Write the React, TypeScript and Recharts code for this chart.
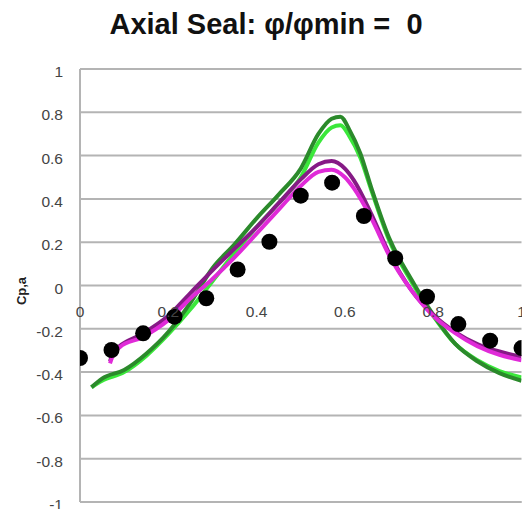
import { ComposedChart, Line, Scatter, XAxis, YAxis, CartesianGrid } from 'recharts'

// measured pressure coefficient (black dots)
const measuredX = [0, 0.0714, 0.143, 0.214, 0.286, 0.357, 0.429, 0.5, 0.571, 0.643, 0.714, 0.786, 0.857, 0.929, 1.0]
const measuredCp = [-0.335, -0.298, -0.221, -0.144, -0.059, 0.074, 0.202, 0.415, 0.475, 0.321, 0.126, -0.052, -0.178, -0.255, -0.289]

// computed curves
const greenX = [0.026, 0.05, 0.1, 0.15, 0.2, 0.25, 0.3, 0.35, 0.4, 0.45, 0.5, 0.54, 0.57, 0.59, 0.61, 0.635, 0.66, 0.7, 0.75, 0.8, 0.85, 0.9, 0.95, 1.0]
const darkGreenCp = [-0.47, -0.43, -0.39, -0.315, -0.215, -0.08, 0.08, 0.19, 0.31, 0.42, 0.54, 0.7, 0.77, 0.78, 0.72, 0.61, 0.45, 0.22, 0.03, -0.135, -0.27, -0.35, -0.405, -0.44]
const limeCp = [-0.47, -0.44, -0.4, -0.325, -0.225, -0.11, 0.02, 0.15, 0.27, 0.38, 0.5, 0.66, 0.73, 0.74, 0.69, 0.59, 0.44, 0.21, 0.02, -0.14, -0.27, -0.345, -0.395, -0.425]

const purpleX = [0.068, 0.075, 0.09, 0.14, 0.2, 0.25, 0.3, 0.35, 0.4, 0.45, 0.5, 0.54, 0.57, 0.6, 0.62, 0.66, 0.7, 0.75, 0.8, 0.85, 0.9, 0.95, 1.0]
const purpleCp = [-0.35, -0.31, -0.28, -0.225, -0.14, -0.035, 0.07, 0.17, 0.27, 0.38, 0.49, 0.56, 0.575, 0.54, 0.487, 0.33, 0.15, -0.02, -0.135, -0.215, -0.27, -0.305, -0.33]
const magentaCp = [-0.36, -0.32, -0.285, -0.24, -0.16, -0.06, 0.03, 0.13, 0.24, 0.35, 0.46, 0.525, 0.535, 0.5, 0.45, 0.31, 0.14, -0.02, -0.14, -0.22, -0.28, -0.32, -0.345]

const xTicks = [0, 0.2, 0.4, 0.6, 0.8, 1]
const yTicks = [-1, -0.8, -0.6, -0.4, -0.2, 0, 0.2, 0.4, 0.6, 0.8, 1]

const toRows = (xs: number[], ys: number[]) => xs.map((x, i) => ({ x, y: ys[i] }))

const measured = toRows(measuredX, measuredCp)
const darkGreen = toRows(greenX, darkGreenCp)
const lime = toRows(greenX, limeCp)
const purple = toRows(purpleX, purpleCp)
const magenta = toRows(purpleX, magentaCp)

const TOP = 69
const BOTTOM = 502
const ZERO_Y = (TOP + BOTTOM) / 2
const FONT = '"Liberation Sans", Arial, sans-serif'
const GRID = '#b4b4b4'

function XTick({ x, payload }: any) {
  return (
    <text x={x} y={ZERO_Y + 31} textAnchor="middle" fontSize={15.5} fill="#444" fontFamily={FONT}>
      {payload.value}
    </text>
  )
}

function YTick({ x, y, payload }: any) {
  return (
    <text x={x} y={y + 8} textAnchor="end" fontSize={15.5} fill="#444" fontFamily={FONT}>
      {payload.value}
    </text>
  )
}

const Dot = (props: any) => <circle cx={props.cx} cy={props.cy} r={8} fill="#000" />

export default function App() {
  return (
    <div style={{ position: 'fixed', left: 0, top: 0, width: 522, height: 509, overflow: 'hidden', background: '#fff' }}>
      <div
        style={{
          position: 'absolute',
          left: 0,
          top: 10,
          width: 532,
          textAlign: 'center',
          fontFamily: FONT,
          fontWeight: 'bold',
          fontSize: 29,
          lineHeight: '29px',
          whiteSpace: 'pre',
          color: '#111',
        }}
      >
        Axial Seal: φ/φmin =  0
      </div>
      <div
        style={{
          position: 'absolute',
          left: 21,
          top: 291,
          transform: 'translate(-50%, -50%) rotate(-90deg)',
          fontFamily: FONT,
          fontWeight: 'bold',
          fontSize: 13,
          color: '#222',
          whiteSpace: 'pre',
        }}
      >
        Cp,a
      </div>
      <div style={{ position: 'absolute', left: 0, top: 0 }}>
        <ComposedChart width={560} height={509} margin={{ top: TOP, right: 38.5, bottom: 0, left: 0 }}>
          <CartesianGrid vertical={false} stroke={GRID} strokeWidth={2} />
          <XAxis
            type="number"
            dataKey="x"
            domain={[0, 1]}
            ticks={xTicks}
            interval={0}
            height={509 - BOTTOM}
            axisLine={{ stroke: GRID, strokeWidth: 2 }}
            tickLine={false}
            tick={<XTick />}
            allowDataOverflow
          />
          <YAxis
            type="number"
            dataKey="y"
            domain={[-1, 1]}
            ticks={yTicks}
            interval={0}
            width={80}
            tickSize={0}
            tickMargin={17}
            tickLine={false}
            axisLine={{ stroke: GRID, strokeWidth: 2 }}
            tick={<YTick />}
            allowDataOverflow
          />
          <Line data={lime} dataKey="y" type="monotone" stroke="#3be83b" strokeWidth={4} dot={false} isAnimationActive={false} />
          <Line data={darkGreen} dataKey="y" type="monotone" stroke="#2b8a2b" strokeWidth={4} dot={false} isAnimationActive={false} />
          <Line data={purple} dataKey="y" type="monotone" stroke="#861a86" strokeWidth={4} dot={false} isAnimationActive={false} />
          <Line data={magenta} dataKey="y" type="monotone" stroke="#e02ad8" strokeWidth={4} dot={false} isAnimationActive={false} />
          <Scatter data={measured} dataKey="y" shape={<Dot />} isAnimationActive={false} />
        </ComposedChart>
      </div>
    </div>
  )
}
